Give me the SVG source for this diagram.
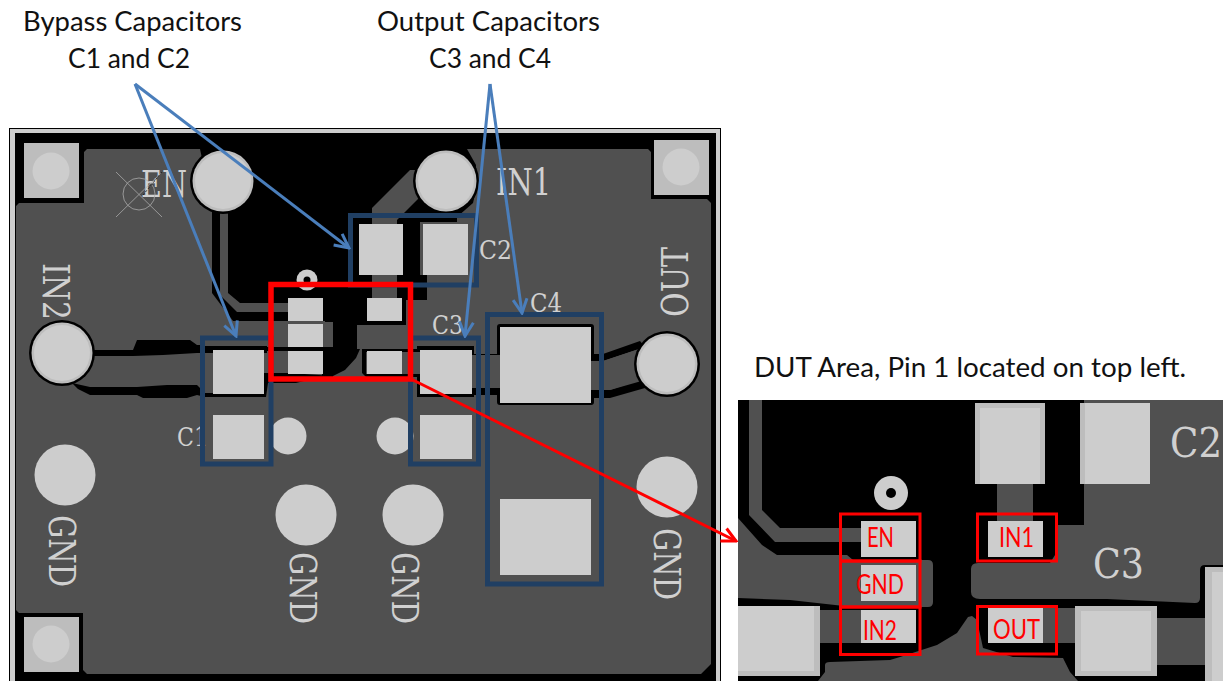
<svg xmlns="http://www.w3.org/2000/svg" width="1223" height="681" viewBox="0 0 1223 681">
<defs>
<marker id="ab" viewBox="0 0 18 18" refX="16" refY="9" markerWidth="18" markerHeight="18" orient="auto" markerUnits="userSpaceOnUse"><path d="M2 2 L16 9 L2 16" fill="none" stroke="#4a7ebb" stroke-width="3"/></marker>
<marker id="ar" viewBox="0 0 18 18" refX="16" refY="9" markerWidth="18" markerHeight="18" orient="auto" markerUnits="userSpaceOnUse"><path d="M2 2 L16 9 L2 16" fill="none" stroke="#f00" stroke-width="3"/></marker>
</defs>
<style>
.cu{fill:#505050}
.pad{fill:#cdcdcd}
.mask{fill:#bdbdbd}
.blk{fill:#000}
.silk{font-family:"DejaVu Serif",serif;fill:#d0d0d0;font-size:37px}
.s2{font-size:26px}
.s3{font-size:41px}
.cal{font-family:Lato,"Liberation Sans",sans-serif;font-size:27px;fill:#111}
.nv{fill:none;stroke:#203f63;stroke-width:5}
.bl{stroke:#4a7ebb;stroke-width:3;fill:none;marker-end:url(#ab)}
.rd{stroke:#f00;stroke-width:3;fill:none;marker-end:url(#ar)}
.rb{fill:none;stroke:#f00;stroke-width:3}
.dl{font-family:Lato,"Liberation Sans",sans-serif;font-size:26px;fill:#f00}
</style>
<rect width="1223" height="681" fill="#fff"/>
<g id="board">
<rect x="9.500" y="128.500" width="711" height="553" fill="#cdcdcd" stroke="#000"/>
<rect x="15" y="133" width="701" height="548" fill="#000"/>
<path class="cu" d="M84 152 L87 149 H648 L651 152 V199 H707 L711 203 V664 L701 674 H87 L83 670 V613 H19 L16 610 V206 L19 203 H84Z"/>
<path class="blk" d="M200 149 H467 L476 165 V190 L473 203 L457 217 V222 H420 V275 H427 V300 H406 V325 H357 V349 H360 L356 358 L345 370 L333 376 L322 377 V349 H333 V322 H325 V321 H233 L212 293 V205Z"/>
<path class="blk" d="M93 350 H133 L137 340 H190 L197 345 H205 V346 H267 V347 H333 V351 H267 V353 H197 L163 355 L133 356 H93Z"/>
<path class="blk" d="M72 383 L90 387 H137 L167 385 H197 L205 393 H264 V373 H290 L333 376 V378 L312 379 L296 383 H268 L266 397 H205 L197 395 L187 398 H143 L137 395 H90 L78 389Z"/>
<path class="blk" d="M362 349 H417 V346 H474 V354 H497 V327 Q497 324 500 324 H591 Q594 324 594 327 V354 H603 L640 341 L645 347 L603 361 H594 V390 H610 L640 380 L645 388 L610 398 H594 V402 Q594 405 591 405 H500 Q497 405 497 402 V395 H474 V397 H417 V377 H366 L362 373Z"/>
<path class="cu" d="M405 352 H420 V374 H405Z"/>
<path class="cu" d="M472 355 H500 V388 H472Z"/>
<path class="cu" d="M590 361 H603 L645 347 V380 L610 390 H590Z"/>
<path class="cu" d="M366 352 H405 V374 H366Z"/>
<path class="cu" d="M372 275 H397 V300 H372Z"/>
<path class="cu" d="M410 170 H425 V192 L397 220 V224 H372 V208Z"/>
<path class="cu" d="M220 181 H228 V293 L240 303 H292 V312 H237 L220 295Z"/>
</g>
<g id="pads">
<rect class="mask" x="24" y="143" width="55" height="55"/><circle class="pad" cx="51" cy="171" r="18.500"/>
<rect class="mask" x="654" y="140" width="55" height="55"/><circle class="pad" cx="681" cy="167" r="18.500"/>
<rect class="mask" x="24" y="617" width="55" height="55"/><circle class="pad" cx="51" cy="644" r="18.500"/>
<circle class="blk" cx="223" cy="181" r="33"/><circle class="mask" cx="223" cy="181" r="30.500"/><circle class="pad" cx="223" cy="181" r="28"/>
<circle class="blk" cx="446" cy="181" r="33"/><circle class="mask" cx="446" cy="181" r="30.500"/><circle class="pad" cx="446" cy="181" r="28"/>
<circle class="blk" cx="62" cy="353" r="33"/><circle class="mask" cx="62" cy="353" r="30.500"/><circle class="pad" cx="62" cy="353" r="28"/>
<circle class="blk" cx="667" cy="364" r="33"/><circle class="mask" cx="667" cy="364" r="30.500"/><circle class="pad" cx="667" cy="364" r="28"/>
<circle class="pad" cx="65" cy="475" r="30.500"/><circle class="pad" cx="306" cy="515" r="30.500"/><circle class="pad" cx="413" cy="515" r="30.500"/><circle class="pad" cx="667" cy="487" r="30.500"/>
<circle class="pad" cx="288" cy="436" r="18.500"/><circle class="pad" cx="395" cy="436" r="18.500"/>
<circle cx="307" cy="280" r="10.500" class="pad"/><circle cx="307" cy="280" r="3.500" class="blk"/>
<rect class="pad" x="359" y="224" width="44" height="51"/><rect class="pad" x="423" y="224" width="45" height="51"/>
<rect class="pad" x="288" y="298" width="35" height="23"/><rect class="pad" x="288" y="324" width="35" height="23"/><rect class="pad" x="288" y="351" width="35" height="23"/>
<rect class="pad" x="367" y="298" width="35" height="23"/><rect class="pad" x="367" y="351" width="35" height="23"/>
<rect class="pad" x="213" y="350" width="51" height="44"/><rect class="pad" x="213" y="415" width="51" height="44"/>
<rect class="pad" x="420" y="350" width="52" height="44"/><rect class="pad" x="420" y="415" width="52" height="44"/>
<rect class="pad" x="500" y="327" width="91" height="76"/><rect class="pad" x="500" y="499" width="91" height="76"/>
</g>
<g id="silk">
<text class="silk" x="141" y="197" textLength="46" lengthAdjust="spacingAndGlyphs">EN</text>
<text class="silk" x="496" y="195" textLength="55" lengthAdjust="spacingAndGlyphs">IN1</text>
<text class="silk s2" x="479" y="259" textLength="33" lengthAdjust="spacingAndGlyphs">C2</text>
<text class="silk s2" x="432" y="334" textLength="31" lengthAdjust="spacingAndGlyphs">C3</text>
<text class="silk s2" x="530" y="312" textLength="32" lengthAdjust="spacingAndGlyphs">C4</text>
<text class="silk s2" x="177" y="446" textLength="31" lengthAdjust="spacingAndGlyphs">C1</text>
<text class="silk" transform="translate(43 263) rotate(90)" textLength="57" lengthAdjust="spacingAndGlyphs">IN2</text>
<text class="silk" transform="translate(688 317) rotate(-90)" textLength="70" lengthAdjust="spacingAndGlyphs">OUT</text>
<text class="silk" transform="translate(49 515) rotate(90)" textLength="72" lengthAdjust="spacingAndGlyphs">GND</text>
<text class="silk" transform="translate(290 552) rotate(90)" textLength="72" lengthAdjust="spacingAndGlyphs">GND</text>
<text class="silk" transform="translate(392 552) rotate(90)" textLength="72" lengthAdjust="spacingAndGlyphs">GND</text>
<text class="silk" transform="translate(654 528) rotate(90)" textLength="72" lengthAdjust="spacingAndGlyphs">GND</text>
<g stroke="#aaa" fill="none" stroke-width=".8"><circle cx="139" cy="194" r="16"/><path d="M116 172 L162 217 M116 217 L162 172"/></g>
<path d="M143 195 L162 172" stroke="#222" stroke-width="1" stroke-dasharray="2 2" fill="none"/>
</g>
<g id="callout-boxes">
<rect class="nv" x="350.500" y="215.500" width="126" height="69.500"/>
<rect class="nv" x="202.500" y="338" width="68.500" height="126"/>
<rect class="nv" x="410.500" y="338" width="68" height="126"/>
<rect class="nv" x="487.500" y="314.500" width="114" height="269.500"/>
<rect x="271" y="284.500" width="139.500" height="94.500" fill="none" stroke="#f00" stroke-width="5.500"/>
</g>
<g id="inset">
<rect x="738" y="400" width="485" height="281" fill="#000"/>
<path class="cu" d="M738 518 L762 545 L777 555 H847 L853 560 H928 Q933 560 933 565 V602 Q933 607 928 607 H853 L790 600 L738 598Z"/>
<path class="cu" d="M1084 400 H1223 V565 H1205 Q1200 565 1200 570 V598 Q1200 603 1195 603 L1107 599 H980 Q971 599 971 592 V569 Q971 563 978 563 H1050 L1055 555 V525 H1084Z"/>
<path class="cu" d="M749 400 H762 V510 L780 528 H870 V542 H775 L749 515Z"/>
<path class="cu" d="M997 480 H1033 V525 H997Z"/>
<path class="cu" d="M815 610 H870 V643 H815Z"/>
<path class="cu" d="M1030 608 H1080 V643 H1030Z"/>
<path class="cu" d="M1150 618 H1210 V665 H1150Z"/>
<path class="cu" d="M818 681 L825 672 V665 Q825 662 830 662 L890 660 L900 657 L937 645 L957 633 L968 617 L972 616 L977 620 L983 648 L1013 657 L1063 658 L1070 672 L1078 681Z"/>
<rect class="mask" x="975" y="403" width="70" height="81"/><rect class="pad" x="980" y="408" width="60" height="76"/>
<rect class="mask" x="1080" y="403" width="70" height="81"/><rect class="pad" x="1085" y="403" width="65" height="81"/>
<circle class="pad" cx="891" cy="493" r="17"/><circle cx="891" cy="493" r="5" class="blk"/>
<rect class="pad" x="861" y="521" width="55" height="36"/><rect class="pad" x="861" y="565" width="55" height="36"/><rect class="pad" x="861" y="610" width="55" height="33"/>
<rect class="pad" x="988" y="521" width="55" height="36"/><rect class="pad" x="988" y="608" width="55" height="35"/>
<rect class="mask" x="738" y="606" width="82" height="70"/><rect class="pad" x="738" y="606" width="76" height="65"/>
<rect class="mask" x="1075" y="606" width="82" height="70"/><rect class="pad" x="1081" y="611" width="70" height="60"/>
<rect class="mask" x="1205" y="567" width="18" height="114"/><rect class="pad" x="1212" y="572" width="11" height="109"/>
<text class="silk s3" x="1170" y="457" textLength="52" lengthAdjust="spacingAndGlyphs">C2</text>
<text class="silk s3" x="1093" y="578" textLength="51" lengthAdjust="spacingAndGlyphs">C3</text>
<rect class="rb" x="840.500" y="514" width="79.500" height="47"/><rect class="rb" x="840.500" y="561" width="79.500" height="46"/><rect class="rb" x="840.500" y="607" width="79.500" height="47.500"/><rect class="rb" x="977.500" y="514" width="79" height="47"/><rect class="rb" x="977.500" y="606.500" width="79" height="47.500"/>
<text class="dl" x="867" y="547" textLength="27" lengthAdjust="spacingAndGlyphs">EN</text><text class="dl" x="856" y="594" textLength="48" lengthAdjust="spacingAndGlyphs">GND</text><text class="dl" x="863" y="640" textLength="34" lengthAdjust="spacingAndGlyphs">IN2</text><text class="dl" x="999" y="547" textLength="35" lengthAdjust="spacingAndGlyphs">IN1</text><text class="dl" x="993" y="639" textLength="47" lengthAdjust="spacingAndGlyphs">OUT</text>
</g>
<g id="connectors">
<path class="bl" d="M135 84 L236 336"/>
<path class="bl" d="M135 84 L349 248"/>
<path class="bl" d="M490 84 L465 336"/>
<path class="bl" d="M490 84 L522 313"/>
<path class="rd" d="M411 379 L736 541"/>
</g>
<g id="labels">
<text class="cal" x="23" y="31" textLength="219" lengthAdjust="spacingAndGlyphs">Bypass Capacitors</text>
<text class="cal" x="68" y="68" textLength="122" lengthAdjust="spacingAndGlyphs">C1 and C2</text>
<text class="cal" x="377" y="31" textLength="223" lengthAdjust="spacingAndGlyphs">Output Capacitors</text>
<text class="cal" x="429" y="68" textLength="122" lengthAdjust="spacingAndGlyphs">C3 and C4</text>
<text class="cal" x="754" y="377" textLength="432" lengthAdjust="spacingAndGlyphs">DUT Area, Pin 1 located on top left.</text>
</g>
</svg>
